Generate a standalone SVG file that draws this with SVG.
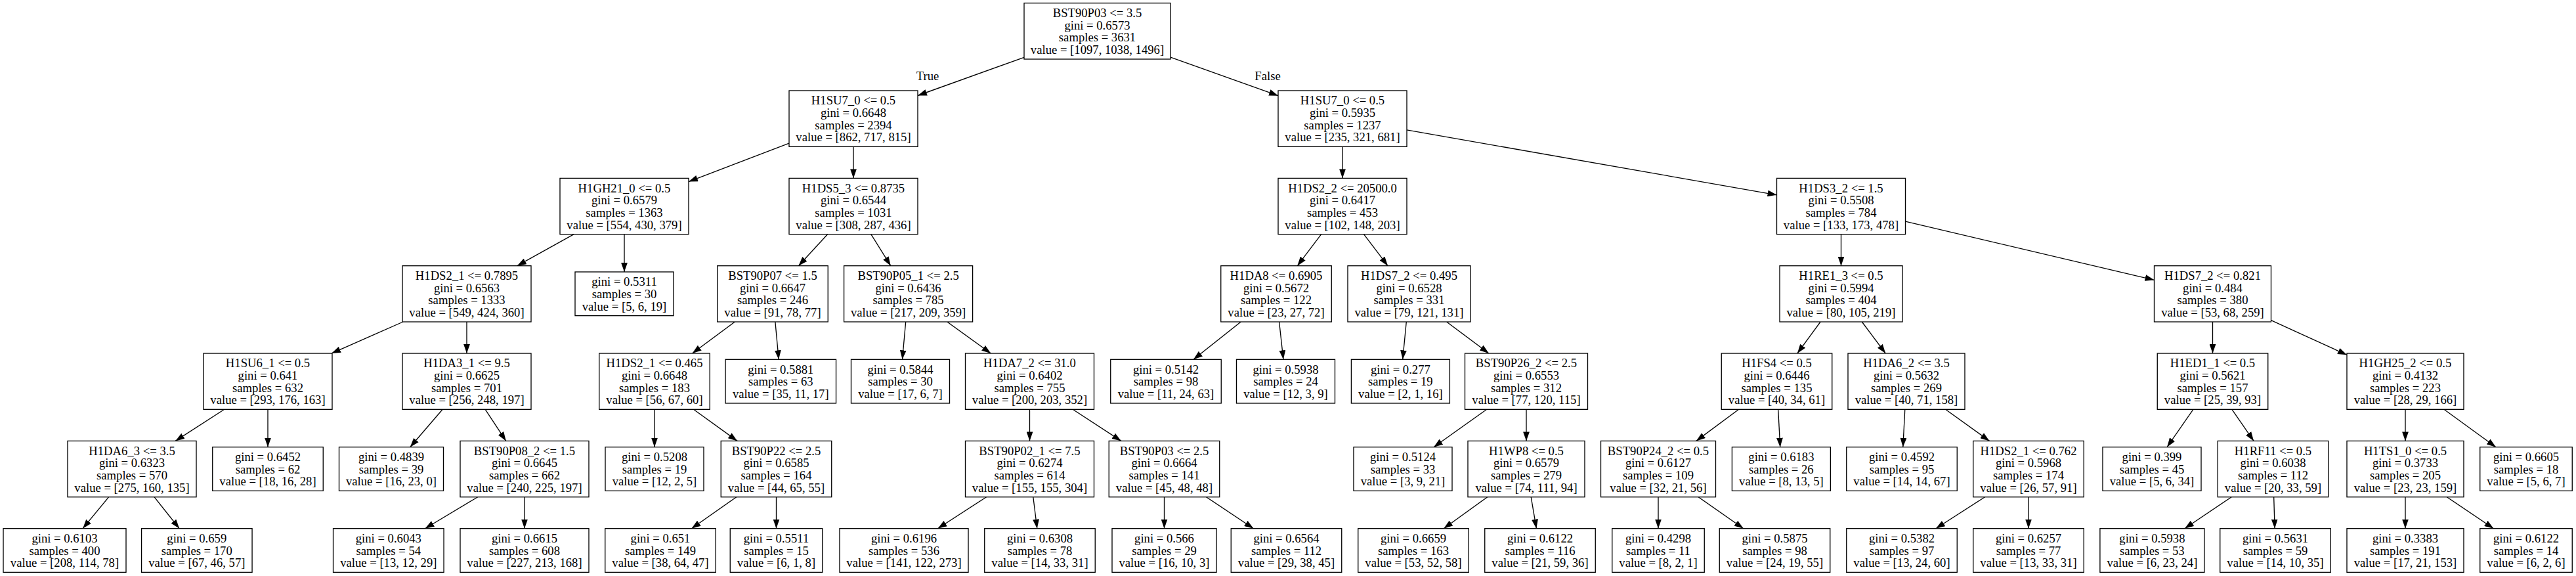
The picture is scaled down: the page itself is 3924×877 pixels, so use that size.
<svg xmlns="http://www.w3.org/2000/svg" width="3924" height="877" viewBox="0 0 3924 877">
<style>
rect{fill:#fff;stroke:#000;stroke-width:1.33}
text{font-family:"Liberation Serif","Times New Roman",serif;font-size:18.67px;text-anchor:middle;fill:#000}
#edges line{stroke:#000;stroke-width:1.33;marker-end:url(#ah)}
</style>
<defs>
<marker id="ah" markerUnits="userSpaceOnUse" markerWidth="14" markerHeight="10" viewBox="0 0 13.33 9.33" refX="13.33" refY="4.67" orient="auto"><path d="M0,0 L13.33,4.67 L0,9.33 z" fill="#000"/></marker>
</defs>
<rect x="0" y="0" width="3924" height="877" style="stroke:none;fill:#fff"/>
<g id="edges">
<line x1="1560" y1="87.3" x2="1398" y2="145.5"/>
<line x1="1783" y1="87.1" x2="1947" y2="145.7"/>
<line x1="1202" y1="218.1" x2="1049" y2="276.6"/>
<line x1="1300" y1="223.3" x2="1300" y2="271.4"/>
<line x1="2045" y1="223.3" x2="2045" y2="271.4"/>
<line x1="2143" y1="197.9" x2="2706.5" y2="296.8"/>
<line x1="874.2" y1="356.7" x2="787.8" y2="404.7"/>
<line x1="951" y1="356.7" x2="951" y2="414"/>
<line x1="1260.6" y1="356.7" x2="1216.4" y2="404.7"/>
<line x1="1326.8" y1="356.7" x2="1356.8" y2="404.7"/>
<line x1="2012.7" y1="356.7" x2="1976.3" y2="404.7"/>
<line x1="2077.5" y1="356.7" x2="2114" y2="404.7"/>
<line x1="2804.5" y1="356.7" x2="2804.5" y2="404.7"/>
<line x1="2902.5" y1="337.1" x2="3281.5" y2="426.3"/>
<line x1="614" y1="490" x2="505" y2="538"/>
<line x1="711" y1="490" x2="711" y2="538"/>
<line x1="1119.4" y1="490" x2="1054.6" y2="538"/>
<line x1="1180.9" y1="490" x2="1186.2" y2="547.3"/>
<line x1="1379.7" y1="490" x2="1374.5" y2="547.3"/>
<line x1="1442.8" y1="490" x2="1509.3" y2="538"/>
<line x1="1890.2" y1="490" x2="1818" y2="547.3"/>
<line x1="1948.6" y1="490" x2="1954.9" y2="547.3"/>
<line x1="2142.3" y1="490" x2="2136.7" y2="547.3"/>
<line x1="2203.6" y1="490" x2="2267.9" y2="538"/>
<line x1="2773.1" y1="490" x2="2737.9" y2="538"/>
<line x1="2836.3" y1="490" x2="2872.2" y2="538"/>
<line x1="3370.5" y1="490" x2="3370.5" y2="538"/>
<line x1="3459.5" y1="487.7" x2="3575" y2="540.3"/>
<line x1="341.8" y1="623.3" x2="267.2" y2="671.4"/>
<line x1="408" y1="623.3" x2="408" y2="680.7"/>
<line x1="674.2" y1="623.3" x2="624.75" y2="680.7"/>
<line x1="739.2" y1="623.3" x2="770.8" y2="671.4"/>
<line x1="997" y1="623.3" x2="997" y2="680.7"/>
<line x1="1056.4" y1="623.3" x2="1123.1" y2="671.4"/>
<line x1="1568.5" y1="623.3" x2="1568.5" y2="671.4"/>
<line x1="1634.1" y1="623.3" x2="1707.9" y2="671.4"/>
<line x1="2264.8" y1="623.3" x2="2184" y2="680.7"/>
<line x1="2325" y1="623.3" x2="2325" y2="671.4"/>
<line x1="2648.7" y1="623.3" x2="2583.8" y2="671.4"/>
<line x1="2708.7" y1="623.3" x2="2711.7" y2="680.7"/>
<line x1="2901.8" y1="623.3" x2="2898.75" y2="680.7"/>
<line x1="2963.5" y1="623.3" x2="3030.5" y2="671.4"/>
<line x1="3340.9" y1="623.3" x2="3301.1" y2="680.7"/>
<line x1="3399.9" y1="623.3" x2="3433.1" y2="671.4"/>
<line x1="3664" y1="623.3" x2="3664" y2="671.4"/>
<line x1="3722.9" y1="623.3" x2="3802" y2="680.7"/>
<line x1="165.7" y1="756.7" x2="126.1" y2="804.7"/>
<line x1="235" y1="756.7" x2="273.2" y2="804.7"/>
<line x1="727.7" y1="756.7" x2="647.5" y2="804.7"/>
<line x1="799" y1="756.7" x2="799" y2="804.7"/>
<line x1="1121.8" y1="756.7" x2="1053.4" y2="804.7"/>
<line x1="1182.5" y1="756.7" x2="1182.5" y2="804.7"/>
<line x1="1502.6" y1="756.7" x2="1428.5" y2="804.7"/>
<line x1="1573.8" y1="756.7" x2="1579.8" y2="804.7"/>
<line x1="1773.5" y1="756.7" x2="1773.5" y2="804.7"/>
<line x1="1837.5" y1="756.7" x2="1909.5" y2="804.7"/>
<line x1="2265.8" y1="756.7" x2="2199.2" y2="804.7"/>
<line x1="2332.2" y1="756.7" x2="2340.4" y2="804.7"/>
<line x1="2526" y1="756.7" x2="2526" y2="804.7"/>
<line x1="2587.1" y1="756.7" x2="2655.8" y2="804.7"/>
<line x1="3023.6" y1="756.7" x2="2948.9" y2="804.7"/>
<line x1="3090" y1="756.7" x2="3090" y2="804.7"/>
<line x1="3399.2" y1="756.7" x2="3327.9" y2="804.7"/>
<line x1="3463.7" y1="756.7" x2="3465.1" y2="804.7"/>
<line x1="3664" y1="756.7" x2="3664" y2="804.7"/>
<line x1="3727.3" y1="756.7" x2="3798.5" y2="804.7"/>
<text x="1413" y="121.5">True</text>
<text x="1931" y="121.5">False</text>
</g>
<g id="n0"><rect x="1560" y="4.7" width="223" height="85.33"/><text y="26"><tspan x="1671.5">BST90P03 &lt;= 3.5</tspan><tspan x="1671.5" dy="18.67">gini = 0.6573</tspan><tspan x="1671.5" dy="18.67">samples = 3631</tspan><tspan x="1671.5" dy="18.67">value = [1097, 1038, 1496]</tspan></text></g>
<g id="n1"><rect x="1202" y="138" width="196" height="85.33"/><text y="159.3"><tspan x="1300">H1SU7_0 &lt;= 0.5</tspan><tspan x="1300" dy="18.67">gini = 0.6648</tspan><tspan x="1300" dy="18.67">samples = 2394</tspan><tspan x="1300" dy="18.67">value = [862, 717, 815]</tspan></text></g>
<g id="n2"><rect x="1947" y="138" width="196" height="85.33"/><text y="159.3"><tspan x="2045">H1SU7_0 &lt;= 0.5</tspan><tspan x="2045" dy="18.67">gini = 0.5935</tspan><tspan x="2045" dy="18.67">samples = 1237</tspan><tspan x="2045" dy="18.67">value = [235, 321, 681]</tspan></text></g>
<g id="n3"><rect x="853" y="271.4" width="196" height="85.33"/><text y="292.7"><tspan x="951">H1GH21_0 &lt;= 0.5</tspan><tspan x="951" dy="18.67">gini = 0.6579</tspan><tspan x="951" dy="18.67">samples = 1363</tspan><tspan x="951" dy="18.67">value = [554, 430, 379]</tspan></text></g>
<g id="n4"><rect x="1202" y="271.4" width="196" height="85.33"/><text y="292.7"><tspan x="1300">H1DS5_3 &lt;= 0.8735</tspan><tspan x="1300" dy="18.67">gini = 0.6544</tspan><tspan x="1300" dy="18.67">samples = 1031</tspan><tspan x="1300" dy="18.67">value = [308, 287, 436]</tspan></text></g>
<g id="n5"><rect x="1947" y="271.4" width="196" height="85.33"/><text y="292.7"><tspan x="2045">H1DS2_2 &lt;= 20500.0</tspan><tspan x="2045" dy="18.67">gini = 0.6417</tspan><tspan x="2045" dy="18.67">samples = 453</tspan><tspan x="2045" dy="18.67">value = [102, 148, 203]</tspan></text></g>
<g id="n6"><rect x="2706.5" y="271.4" width="196" height="85.33"/><text y="292.7"><tspan x="2804.5">H1DS3_2 &lt;= 1.5</tspan><tspan x="2804.5" dy="18.67">gini = 0.5508</tspan><tspan x="2804.5" dy="18.67">samples = 784</tspan><tspan x="2804.5" dy="18.67">value = [133, 173, 478]</tspan></text></g>
<g id="n7"><rect x="613" y="404.7" width="196" height="85.33"/><text y="426"><tspan x="711">H1DS2_1 &lt;= 0.7895</tspan><tspan x="711" dy="18.67">gini = 0.6563</tspan><tspan x="711" dy="18.67">samples = 1333</tspan><tspan x="711" dy="18.67">value = [549, 424, 360]</tspan></text></g>
<g id="n8"><rect x="876" y="414" width="150" height="66.67"/><text y="435.3"><tspan x="951">gini = 0.5311</tspan><tspan x="951" dy="18.67">samples = 30</tspan><tspan x="951" dy="18.67">value = [5, 6, 19]</tspan></text></g>
<g id="n9"><rect x="1092.75" y="404.7" width="168.5" height="85.33"/><text y="426"><tspan x="1177">BST90P07 &lt;= 1.5</tspan><tspan x="1177" dy="18.67">gini = 0.6647</tspan><tspan x="1177" dy="18.67">samples = 246</tspan><tspan x="1177" dy="18.67">value = [91, 78, 77]</tspan></text></g>
<g id="n10"><rect x="1285.6" y="404.7" width="196" height="85.33"/><text y="426"><tspan x="1383.6">BST90P05_1 &lt;= 2.5</tspan><tspan x="1383.6" dy="18.67">gini = 0.6436</tspan><tspan x="1383.6" dy="18.67">samples = 785</tspan><tspan x="1383.6" dy="18.67">value = [217, 209, 359]</tspan></text></g>
<g id="n11"><rect x="1859.75" y="404.7" width="168.5" height="85.33"/><text y="426"><tspan x="1944">H1DA8 &lt;= 0.6905</tspan><tspan x="1944" dy="18.67">gini = 0.5672</tspan><tspan x="1944" dy="18.67">samples = 122</tspan><tspan x="1944" dy="18.67">value = [23, 27, 72]</tspan></text></g>
<g id="n12"><rect x="2053" y="404.7" width="187" height="85.33"/><text y="426"><tspan x="2146.5">H1DS7_2 &lt;= 0.495</tspan><tspan x="2146.5" dy="18.67">gini = 0.6528</tspan><tspan x="2146.5" dy="18.67">samples = 331</tspan><tspan x="2146.5" dy="18.67">value = [79, 121, 131]</tspan></text></g>
<g id="n13"><rect x="2711" y="404.7" width="187" height="85.33"/><text y="426"><tspan x="2804.5">H1RE1_3 &lt;= 0.5</tspan><tspan x="2804.5" dy="18.67">gini = 0.5994</tspan><tspan x="2804.5" dy="18.67">samples = 404</tspan><tspan x="2804.5" dy="18.67">value = [80, 105, 219]</tspan></text></g>
<g id="n14"><rect x="3281.5" y="404.7" width="178" height="85.33"/><text y="426"><tspan x="3370.5">H1DS7_2 &lt;= 0.821</tspan><tspan x="3370.5" dy="18.67">gini = 0.484</tspan><tspan x="3370.5" dy="18.67">samples = 380</tspan><tspan x="3370.5" dy="18.67">value = [53, 68, 259]</tspan></text></g>
<g id="n15"><rect x="310" y="538" width="196" height="85.33"/><text y="559.3"><tspan x="408">H1SU6_1 &lt;= 0.5</tspan><tspan x="408" dy="18.67">gini = 0.641</tspan><tspan x="408" dy="18.67">samples = 632</tspan><tspan x="408" dy="18.67">value = [293, 176, 163]</tspan></text></g>
<g id="n16"><rect x="613" y="538" width="196" height="85.33"/><text y="559.3"><tspan x="711">H1DA3_1 &lt;= 9.5</tspan><tspan x="711" dy="18.67">gini = 0.6625</tspan><tspan x="711" dy="18.67">samples = 701</tspan><tspan x="711" dy="18.67">value = [256, 248, 197]</tspan></text></g>
<g id="n17"><rect x="912.75" y="538" width="168.5" height="85.33"/><text y="559.3"><tspan x="997">H1DS2_1 &lt;= 0.465</tspan><tspan x="997" dy="18.67">gini = 0.6648</tspan><tspan x="997" dy="18.67">samples = 183</tspan><tspan x="997" dy="18.67">value = [56, 67, 60]</tspan></text></g>
<g id="n18"><rect x="1105.05" y="547.3" width="168.5" height="66.67"/><text y="568.6"><tspan x="1189.3">gini = 0.5881</tspan><tspan x="1189.3" dy="18.67">samples = 63</tspan><tspan x="1189.3" dy="18.67">value = [35, 11, 17]</tspan></text></g>
<g id="n19"><rect x="1296.5" y="547.3" width="150" height="66.67"/><text y="568.6"><tspan x="1371.5">gini = 0.5844</tspan><tspan x="1371.5" dy="18.67">samples = 30</tspan><tspan x="1371.5" dy="18.67">value = [17, 6, 7]</tspan></text></g>
<g id="n20"><rect x="1470.5" y="538" width="196" height="85.33"/><text y="559.3"><tspan x="1568.5">H1DA7_2 &lt;= 31.0</tspan><tspan x="1568.5" dy="18.67">gini = 0.6402</tspan><tspan x="1568.5" dy="18.67">samples = 755</tspan><tspan x="1568.5" dy="18.67">value = [200, 203, 352]</tspan></text></g>
<g id="n21"><rect x="1691.75" y="547.3" width="168.5" height="66.67"/><text y="568.6"><tspan x="1776">gini = 0.5142</tspan><tspan x="1776" dy="18.67">samples = 98</tspan><tspan x="1776" dy="18.67">value = [11, 24, 63]</tspan></text></g>
<g id="n22"><rect x="1883.5" y="547.3" width="150" height="66.67"/><text y="568.6"><tspan x="1958.5">gini = 0.5938</tspan><tspan x="1958.5" dy="18.67">samples = 24</tspan><tspan x="1958.5" dy="18.67">value = [12, 3, 9]</tspan></text></g>
<g id="n23"><rect x="2058.4" y="547.3" width="150" height="66.67"/><text y="568.6"><tspan x="2133.4">gini = 0.277</tspan><tspan x="2133.4" dy="18.67">samples = 19</tspan><tspan x="2133.4" dy="18.67">value = [2, 1, 16]</tspan></text></g>
<g id="n24"><rect x="2231.5" y="538" width="187" height="85.33"/><text y="559.3"><tspan x="2325">BST90P26_2 &lt;= 2.5</tspan><tspan x="2325" dy="18.67">gini = 0.6553</tspan><tspan x="2325" dy="18.67">samples = 312</tspan><tspan x="2325" dy="18.67">value = [77, 120, 115]</tspan></text></g>
<g id="n25"><rect x="2622.25" y="538" width="168.5" height="85.33"/><text y="559.3"><tspan x="2706.5">H1FS4 &lt;= 0.5</tspan><tspan x="2706.5" dy="18.67">gini = 0.6446</tspan><tspan x="2706.5" dy="18.67">samples = 135</tspan><tspan x="2706.5" dy="18.67">value = [40, 34, 61]</tspan></text></g>
<g id="n26"><rect x="2815" y="538" width="178" height="85.33"/><text y="559.3"><tspan x="2904">H1DA6_2 &lt;= 3.5</tspan><tspan x="2904" dy="18.67">gini = 0.5632</tspan><tspan x="2904" dy="18.67">samples = 269</tspan><tspan x="2904" dy="18.67">value = [40, 71, 158]</tspan></text></g>
<g id="n27"><rect x="3286.25" y="538" width="168.5" height="85.33"/><text y="559.3"><tspan x="3370.5">H1ED1_1 &lt;= 0.5</tspan><tspan x="3370.5" dy="18.67">gini = 0.5621</tspan><tspan x="3370.5" dy="18.67">samples = 157</tspan><tspan x="3370.5" dy="18.67">value = [25, 39, 93]</tspan></text></g>
<g id="n28"><rect x="3575" y="538" width="178" height="85.33"/><text y="559.3"><tspan x="3664">H1GH25_2 &lt;= 0.5</tspan><tspan x="3664" dy="18.67">gini = 0.4132</tspan><tspan x="3664" dy="18.67">samples = 223</tspan><tspan x="3664" dy="18.67">value = [28, 29, 166]</tspan></text></g>
<g id="n29"><rect x="103" y="671.4" width="196" height="85.33"/><text y="692.7"><tspan x="201">H1DA6_3 &lt;= 3.5</tspan><tspan x="201" dy="18.67">gini = 0.6323</tspan><tspan x="201" dy="18.67">samples = 570</tspan><tspan x="201" dy="18.67">value = [275, 160, 135]</tspan></text></g>
<g id="n30"><rect x="323.75" y="680.7" width="168.5" height="66.67"/><text y="702"><tspan x="408">gini = 0.6452</tspan><tspan x="408" dy="18.67">samples = 62</tspan><tspan x="408" dy="18.67">value = [18, 16, 28]</tspan></text></g>
<g id="n31"><rect x="516.5" y="680.7" width="159" height="66.67"/><text y="702"><tspan x="596">gini = 0.4839</tspan><tspan x="596" dy="18.67">samples = 39</tspan><tspan x="596" dy="18.67">value = [16, 23, 0]</tspan></text></g>
<g id="n32"><rect x="701" y="671.4" width="196" height="85.33"/><text y="692.7"><tspan x="799">BST90P08_2 &lt;= 1.5</tspan><tspan x="799" dy="18.67">gini = 0.6645</tspan><tspan x="799" dy="18.67">samples = 662</tspan><tspan x="799" dy="18.67">value = [240, 225, 197]</tspan></text></g>
<g id="n33"><rect x="922" y="680.7" width="150" height="66.67"/><text y="702"><tspan x="997">gini = 0.5208</tspan><tspan x="997" dy="18.67">samples = 19</tspan><tspan x="997" dy="18.67">value = [12, 2, 5]</tspan></text></g>
<g id="n34"><rect x="1098.25" y="671.4" width="168.5" height="85.33"/><text y="692.7"><tspan x="1182.5">BST90P22 &lt;= 2.5</tspan><tspan x="1182.5" dy="18.67">gini = 0.6585</tspan><tspan x="1182.5" dy="18.67">samples = 164</tspan><tspan x="1182.5" dy="18.67">value = [44, 65, 55]</tspan></text></g>
<g id="n35"><rect x="1470.5" y="671.4" width="196" height="85.33"/><text y="692.7"><tspan x="1568.5">BST90P02_1 &lt;= 7.5</tspan><tspan x="1568.5" dy="18.67">gini = 0.6274</tspan><tspan x="1568.5" dy="18.67">samples = 614</tspan><tspan x="1568.5" dy="18.67">value = [155, 155, 304]</tspan></text></g>
<g id="n36"><rect x="1689.25" y="671.4" width="168.5" height="85.33"/><text y="692.7"><tspan x="1773.5">BST90P03 &lt;= 2.5</tspan><tspan x="1773.5" dy="18.67">gini = 0.6664</tspan><tspan x="1773.5" dy="18.67">samples = 141</tspan><tspan x="1773.5" dy="18.67">value = [45, 48, 48]</tspan></text></g>
<g id="n37"><rect x="2062" y="680.7" width="150" height="66.67"/><text y="702"><tspan x="2137">gini = 0.5124</tspan><tspan x="2137" dy="18.67">samples = 33</tspan><tspan x="2137" dy="18.67">value = [3, 9, 21]</tspan></text></g>
<g id="n38"><rect x="2236" y="671.4" width="178" height="85.33"/><text y="692.7"><tspan x="2325">H1WP8 &lt;= 0.5</tspan><tspan x="2325" dy="18.67">gini = 0.6579</tspan><tspan x="2325" dy="18.67">samples = 279</tspan><tspan x="2325" dy="18.67">value = [74, 111, 94]</tspan></text></g>
<g id="n39"><rect x="2438.5" y="671.4" width="175" height="85.33"/><text y="692.7"><tspan x="2526">BST90P24_2 &lt;= 0.5</tspan><tspan x="2526" dy="18.67">gini = 0.6127</tspan><tspan x="2526" dy="18.67">samples = 109</tspan><tspan x="2526" dy="18.67">value = [32, 21, 56]</tspan></text></g>
<g id="n40"><rect x="2638.4" y="680.7" width="150" height="66.67"/><text y="702"><tspan x="2713.4">gini = 0.6183</tspan><tspan x="2713.4" dy="18.67">samples = 26</tspan><tspan x="2713.4" dy="18.67">value = [8, 13, 5]</tspan></text></g>
<g id="n41"><rect x="2812.75" y="680.7" width="168.5" height="66.67"/><text y="702"><tspan x="2897">gini = 0.4592</tspan><tspan x="2897" dy="18.67">samples = 95</tspan><tspan x="2897" dy="18.67">value = [14, 14, 67]</tspan></text></g>
<g id="n42"><rect x="3005.75" y="671.4" width="168.5" height="85.33"/><text y="692.7"><tspan x="3090">H1DS2_1 &lt;= 0.762</tspan><tspan x="3090" dy="18.67">gini = 0.5968</tspan><tspan x="3090" dy="18.67">samples = 174</tspan><tspan x="3090" dy="18.67">value = [26, 57, 91]</tspan></text></g>
<g id="n43"><rect x="3203" y="680.7" width="150" height="66.67"/><text y="702"><tspan x="3278">gini = 0.399</tspan><tspan x="3278" dy="18.67">samples = 45</tspan><tspan x="3278" dy="18.67">value = [5, 6, 34]</tspan></text></g>
<g id="n44"><rect x="3378.25" y="671.4" width="168.5" height="85.33"/><text y="692.7"><tspan x="3462.5">H1RF11 &lt;= 0.5</tspan><tspan x="3462.5" dy="18.67">gini = 0.6038</tspan><tspan x="3462.5" dy="18.67">samples = 112</tspan><tspan x="3462.5" dy="18.67">value = [20, 33, 59]</tspan></text></g>
<g id="n45"><rect x="3575" y="671.4" width="178" height="85.33"/><text y="692.7"><tspan x="3664">H1TS1_0 &lt;= 0.5</tspan><tspan x="3664" dy="18.67">gini = 0.3733</tspan><tspan x="3664" dy="18.67">samples = 205</tspan><tspan x="3664" dy="18.67">value = [23, 23, 159]</tspan></text></g>
<g id="n46"><rect x="3777.75" y="680.7" width="140.5" height="66.67"/><text y="702"><tspan x="3848">gini = 0.6605</tspan><tspan x="3848" dy="18.67">samples = 18</tspan><tspan x="3848" dy="18.67">value = [5, 6, 7]</tspan></text></g>
<g id="n47"><rect x="5" y="804.7" width="187" height="66.67"/><text y="826"><tspan x="98.5">gini = 0.6103</tspan><tspan x="98.5" dy="18.67">samples = 400</tspan><tspan x="98.5" dy="18.67">value = [208, 114, 78]</tspan></text></g>
<g id="n48"><rect x="215.55" y="804.7" width="168.5" height="66.67"/><text y="826"><tspan x="299.8">gini = 0.659</tspan><tspan x="299.8" dy="18.67">samples = 170</tspan><tspan x="299.8" dy="18.67">value = [67, 46, 57]</tspan></text></g>
<g id="n49"><rect x="507.55" y="804.7" width="168.5" height="66.67"/><text y="826"><tspan x="591.8">gini = 0.6043</tspan><tspan x="591.8" dy="18.67">samples = 54</tspan><tspan x="591.8" dy="18.67">value = [13, 12, 29]</tspan></text></g>
<g id="n50"><rect x="701" y="804.7" width="196" height="66.67"/><text y="826"><tspan x="799">gini = 0.6615</tspan><tspan x="799" dy="18.67">samples = 608</tspan><tspan x="799" dy="18.67">value = [227, 213, 168]</tspan></text></g>
<g id="n51"><rect x="921.75" y="804.7" width="168.5" height="66.67"/><text y="826"><tspan x="1006">gini = 0.651</tspan><tspan x="1006" dy="18.67">samples = 149</tspan><tspan x="1006" dy="18.67">value = [38, 64, 47]</tspan></text></g>
<g id="n52"><rect x="1112.25" y="804.7" width="140.5" height="66.67"/><text y="826"><tspan x="1182.5">gini = 0.5511</tspan><tspan x="1182.5" dy="18.67">samples = 15</tspan><tspan x="1182.5" dy="18.67">value = [6, 1, 8]</tspan></text></g>
<g id="n53"><rect x="1279" y="804.7" width="196" height="66.67"/><text y="826"><tspan x="1377">gini = 0.6196</tspan><tspan x="1377" dy="18.67">samples = 536</tspan><tspan x="1377" dy="18.67">value = [141, 122, 273]</tspan></text></g>
<g id="n54"><rect x="1499.75" y="804.7" width="168.5" height="66.67"/><text y="826"><tspan x="1584">gini = 0.6308</tspan><tspan x="1584" dy="18.67">samples = 78</tspan><tspan x="1584" dy="18.67">value = [14, 33, 31]</tspan></text></g>
<g id="n55"><rect x="1694" y="804.7" width="159" height="66.67"/><text y="826"><tspan x="1773.5">gini = 0.566</tspan><tspan x="1773.5" dy="18.67">samples = 29</tspan><tspan x="1773.5" dy="18.67">value = [16, 10, 3]</tspan></text></g>
<g id="n56"><rect x="1875.25" y="804.7" width="168.5" height="66.67"/><text y="826"><tspan x="1959.5">gini = 0.6564</tspan><tspan x="1959.5" dy="18.67">samples = 112</tspan><tspan x="1959.5" dy="18.67">value = [29, 38, 45]</tspan></text></g>
<g id="n57"><rect x="2068.75" y="804.7" width="168.5" height="66.67"/><text y="826"><tspan x="2153">gini = 0.6659</tspan><tspan x="2153" dy="18.67">samples = 163</tspan><tspan x="2153" dy="18.67">value = [53, 52, 58]</tspan></text></g>
<g id="n58"><rect x="2261.75" y="804.7" width="168.5" height="66.67"/><text y="826"><tspan x="2346">gini = 0.6122</tspan><tspan x="2346" dy="18.67">samples = 116</tspan><tspan x="2346" dy="18.67">value = [21, 59, 36]</tspan></text></g>
<g id="n59"><rect x="2455.75" y="804.7" width="140.5" height="66.67"/><text y="826"><tspan x="2526">gini = 0.4298</tspan><tspan x="2526" dy="18.67">samples = 11</tspan><tspan x="2526" dy="18.67">value = [8, 2, 1]</tspan></text></g>
<g id="n60"><rect x="2619.25" y="804.7" width="168.5" height="66.67"/><text y="826"><tspan x="2703.5">gini = 0.5875</tspan><tspan x="2703.5" dy="18.67">samples = 98</tspan><tspan x="2703.5" dy="18.67">value = [24, 19, 55]</tspan></text></g>
<g id="n61"><rect x="2812.75" y="804.7" width="168.5" height="66.67"/><text y="826"><tspan x="2897">gini = 0.5382</tspan><tspan x="2897" dy="18.67">samples = 97</tspan><tspan x="2897" dy="18.67">value = [13, 24, 60]</tspan></text></g>
<g id="n62"><rect x="3005.75" y="804.7" width="168.5" height="66.67"/><text y="826"><tspan x="3090">gini = 0.6257</tspan><tspan x="3090" dy="18.67">samples = 77</tspan><tspan x="3090" dy="18.67">value = [13, 33, 31]</tspan></text></g>
<g id="n63"><rect x="3198.9" y="804.7" width="159" height="66.67"/><text y="826"><tspan x="3278.4">gini = 0.5938</tspan><tspan x="3278.4" dy="18.67">samples = 53</tspan><tspan x="3278.4" dy="18.67">value = [6, 23, 24]</tspan></text></g>
<g id="n64"><rect x="3381.75" y="804.7" width="168.5" height="66.67"/><text y="826"><tspan x="3466">gini = 0.5631</tspan><tspan x="3466" dy="18.67">samples = 59</tspan><tspan x="3466" dy="18.67">value = [14, 10, 35]</tspan></text></g>
<g id="n65"><rect x="3575" y="804.7" width="178" height="66.67"/><text y="826"><tspan x="3664">gini = 0.3383</tspan><tspan x="3664" dy="18.67">samples = 191</tspan><tspan x="3664" dy="18.67">value = [17, 21, 153]</tspan></text></g>
<g id="n66"><rect x="3777.75" y="804.7" width="140.5" height="66.67"/><text y="826"><tspan x="3848">gini = 0.6122</tspan><tspan x="3848" dy="18.67">samples = 14</tspan><tspan x="3848" dy="18.67">value = [6, 2, 6]</tspan></text></g>
</svg>
